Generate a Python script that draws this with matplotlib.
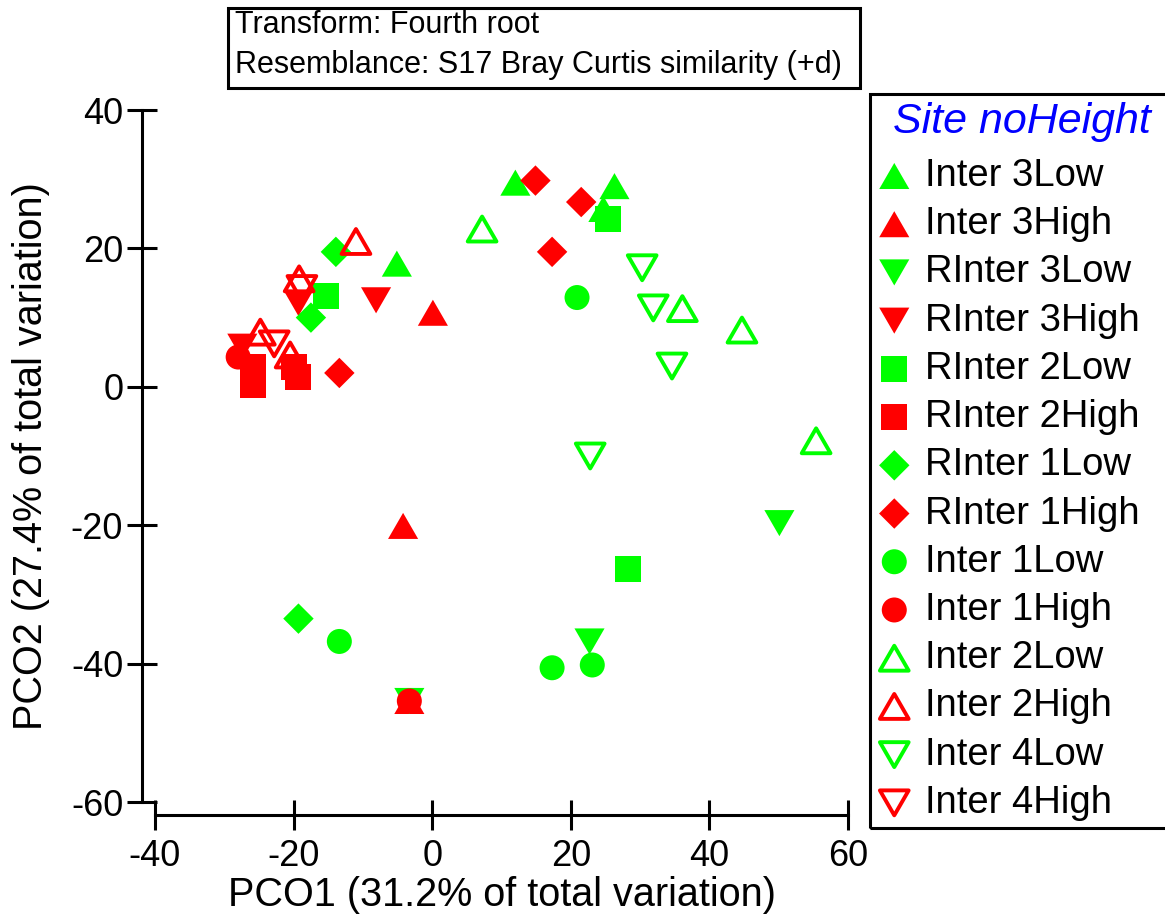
import numpy as np
import matplotlib
matplotlib.use("Agg")
import matplotlib.pyplot as plt
from matplotlib.path import Path
from matplotlib.markers import MarkerStyle
from matplotlib.patches import Rectangle

plt.rcParams['font.family'] = ['Liberation Sans', 'DejaVu Sans']
plt.rcParams['axes.unicode_minus'] = False

# PCO scores per group (PCO1, PCO2)
inter3low_x = [12.0, 26.3, 24.7, -5.1]
inter3low_y = [29.5, 29.0, 25.7, 17.8]
inter3high_x = [0.1, -4.2, -3.3]
inter3high_y = [10.7, -20.1, -45.4]
rinter3low_x = [50.1, 22.7, -3.3]
rinter3low_y = [-19.7, -36.8, -45.4]
rinter3high_x = [-8.1, -19.3, -27.4]
rinter3high_y = [12.5, 12.1, 5.8]
rinter2low_x = [25.4, -15.3, 28.3]
rinter2low_y = [24.3, 13.1, -26.4]
rinter2high_x = [-25.8, -25.8, -20.0, -19.3]
rinter2high_y = [2.9, 0.3, 2.9, 1.4]
rinter1low_x = [-13.9, -17.5, -19.3]
rinter1low_y = [19.5, 10.0, -33.5]
rinter1high_x = [14.9, 21.5, 17.3, -13.4]
rinter1high_y = [29.8, 26.7, 19.5, 2.0]
inter1low_x = [20.9, 17.3, 23.1, -13.4]
inter1low_y = [12.9, -40.6, -40.2, -36.8]
inter1high_x = [-28.0, -3.3]
inter1high_y = [4.3, -45.4]
inter2low_x = [7.2, 36.1, 44.7, 55.4]
inter2low_y = [22.8, 11.3, 8.2, -7.8]
inter2high_x = [-11.0, -19.2, -24.8, -20.5]
inter2high_y = [21.0, 15.6, 7.9, 4.6]
inter4low_x = [30.3, 31.9, 34.6, 22.8]
inter4low_y = [17.2, 11.4, 3.0, -10.0]
inter4high_x = [-18.8, -22.8]
inter4high_y = [14.2, 6.2]

GREEN = '#00ff00'
RED = '#ff0000'

# equilateral triangles, closed so the outline joins at every corner
h = np.sqrt(3) / 2
codes = [Path.MOVETO, Path.LINETO, Path.LINETO, Path.CLOSEPOLY]
tri_up = MarkerStyle(Path([(-1, -h), (1, -h), (0, h), (-1, -h)], codes), joinstyle='miter')
tri_dn = MarkerStyle(Path([(-1, h), (1, h), (0, -h), (-1, h)], codes), joinstyle='miter')

# label, x, y, colour, marker, size, filled
groups = [
  ("Inter 3Low", inter3low_x, inter3low_y, GREEN, tri_up, 470, True),
  ("Inter 3High", inter3high_x, inter3high_y, RED, tri_up, 470, True),
  ("RInter 3Low", rinter3low_x, rinter3low_y, GREEN, tri_dn, 470, True),
  ("RInter 3High", rinter3high_x, rinter3high_y, RED, tri_dn, 470, True),
  ("RInter 2Low", rinter2low_x, rinter2low_y, GREEN, 's', 350, True),
  ("RInter 2High", rinter2high_x, rinter2high_y, RED, 's', 350, True),
  ("RInter 1Low", rinter1low_x, rinter1low_y, GREEN, 'D', 240, True),
  ("RInter 1High", rinter1high_x, rinter1high_y, RED, 'D', 240, True),
  ("Inter 1Low", inter1low_x, inter1low_y, GREEN, 'o', 324, True),
  ("Inter 1High", inter1high_x, inter1high_y, RED, 'o', 324, True),
  ("Inter 2Low", inter2low_x, inter2low_y, GREEN, tri_up, 430, False),
  ("Inter 2High", inter2high_x, inter2high_y, RED, tri_up, 430, False),
  ("Inter 4Low", inter4low_x, inter4low_y, GREEN, tri_dn, 430, False),
  ("Inter 4High", inter4high_x, inter4high_y, RED, tri_dn, 430, False),
]

W, H = 1165, 922
fig = plt.figure(figsize=(W / 100, H / 100), dpi=100)
ax = fig.add_axes([155 / W, 1 - 802 / H, 693 / W, 692 / H])

handles = []
for label, xs, ys, col, mk, size, filled in groups:
  if filled:
    sc = ax.scatter(xs, ys, s=size, marker=mk, c=col, edgecolors='none',
                    linewidths=0, label=label)
  else:
    sc = ax.scatter(xs, ys, s=size, marker=mk, facecolors='none',
                    edgecolors=col, linewidths=2.8, label=label)
  handles.append(sc)

ax.set_xlim(-40, 60)
ax.set_ylim(-60, 40)
ax.set_xticks([-40, -20, 0, 20, 40, 60])
ax.set_yticks([-60, -40, -20, 0, 20, 40])

for side in ['top', 'right']:
  ax.spines[side].set_visible(False)
for side in ['left', 'bottom']:
  ax.spines[side].set_position(('outward', 9.4))
  ax.spines[side].set_linewidth(2.2)

ax.tick_params(direction='inout', length=21, width=2.2, labelsize=26)
ax.tick_params(axis='x', pad=7)
ax.tick_params(axis='y', pad=3)

ax.set_xlabel("PCO1 (31.2% of total variation)", fontsize=28.5)
ax.set_ylabel("PCO2 (27.4% of total variation)", fontsize=28.5)
ax.xaxis.set_label_coords(0.5, -0.107)
ax.yaxis.set_label_coords(-0.151, 0.5)

# legend entries without a frame; title and box are drawn separately
leg = fig.legend(handles=handles, loc='upper left',
                 bbox_to_anchor=(879 / W, 1 - 158 / H), bbox_transform=fig.transFigure,
                 borderaxespad=0, fontsize=27.5, frameon=False, scatterpoints=1,
                 handlelength=0.8, handletextpad=0.4, borderpad=0.0,
                 labelspacing=0.32)
fig.text(893 / W, 1 - 122 / H, "Site noHeight", fontsize=31, style='italic',
         color='#0000ff', va='center')
fig.add_artist(Rectangle((870 / W, 1 - 828 / H), 340 / W, 734 / H, transform=fig.transFigure,
                         fill=False, edgecolor='black', linewidth=2.2))

# transform / resemblance note above the plot
fig.add_artist(Rectangle((228 / W, 1 - 88 / H), 632 / W, 80 / H, transform=fig.transFigure,
                         fill=False, edgecolor='black', linewidth=2.2))
fig.text(235 / W, 1 - 25 / H, "Transform: Fourth root", fontsize=22, va='center')
fig.text(235 / W, 1 - 65 / H, "Resemblance: S17 Bray Curtis similarity (+d)",
         fontsize=22, va='center')

fig.savefig("out.png", dpi=100)
